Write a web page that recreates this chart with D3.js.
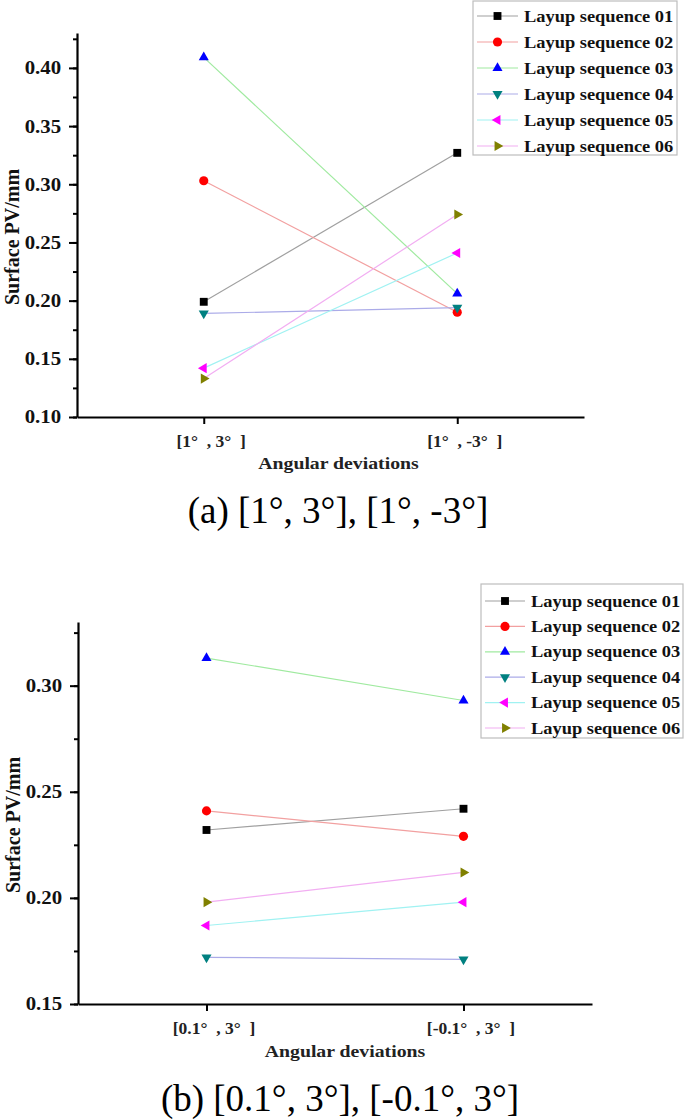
<!DOCTYPE html>
<html>
<head>
<meta charset="utf-8">
<script src="https://cdn.jsdelivr.net/npm/d3@7"></script>
<style>
body { margin: 0; background: #fff; }
svg { display: block; }
text { font-family: "Liberation Serif", "Times New Roman", serif; }
</style>
</head>
<body>
<svg id="chart"></svg>
<script>
const width = 685;
const height = 1120;
const svg = d3.select('#chart').attr('width', width).attr('height', height);

// series info
const seriesNames = ['Layup sequence 01','Layup sequence 02','Layup sequence 03','Layup sequence 04','Layup sequence 05','Layup sequence 06'];
const markerColors = ['#000000','#ff0000','#0000ff','#008080','#ff00ff','#808000'];
const lineColors = ['#a0a0a0','#f2a0a0','#a0eaa0','#ababe8','#a0f2f2','#f2aef2'];
const shapes = ['square','circle','up','down','left','right'];

// (a)
const catsA = ['[1°  , 3°  ]', '[1°  , -3°  ]'];
const seqA01 = [0.199, 0.327];
const seqA02 = [0.303, 0.190];
const seqA03 = [0.409, 0.206];
const seqA04 = [0.189, 0.194];
const seqA05 = [0.142, 0.241];
const seqA06 = [0.133, 0.274];
const ticksA = [0.10, 0.15, 0.20, 0.25, 0.30, 0.35, 0.40];

// (b)
const catsB = ['[0.1°  , 3°  ]', '[-0.1°  , 3°  ]'];
const seqB01 = [0.232, 0.242];
const seqB02 = [0.241, 0.229];
const seqB03 = [0.313, 0.293];
const seqB04 = [0.172, 0.171];
const seqB05 = [0.187, 0.198];
const seqB06 = [0.198, 0.212];
const ticksB = [0.15, 0.20, 0.25, 0.30];

const SX = 1.13; // text looks stretched sideways in the source

const symbolPath = (shape) => {
  if (shape === 'square') return d3.symbol(d3.symbolSquare, 62)();
  if (shape === 'circle') return d3.symbol(d3.symbolCircle, 66)();
  return d3.symbol(d3.symbolTriangle, 44)();
};
const symbolRot = (shape) => ({up: 0, down: 180, left: -90, right: 90}[shape] || 0);

const drawMarker = (g, i, cx, cy) => {
  g.append('path')
    .attr('d', symbolPath(shapes[i]))
    .attr('transform', `translate(${cx},${cy}) rotate(${symbolRot(shapes[i])})`)
    .attr('fill', markerColors[i]);
};

const render = (opt) => {
  const g = svg.append('g');

  var x = d3.scalePoint()
    .domain(opt.cats)
    .range([opt.left, opt.right])
    .padding(0.5);

  var y = d3.scaleLinear()
    .domain(opt.yDomain)
    .range([opt.bottom, opt.top]);

  // minor y ticks
  var minor = d3.range(opt.yDomain[0], opt.yDomain[1] + 1e-9, 0.025);
  g.append('g')
    .attr('transform', `translate(${opt.left},0)`)
    .call(d3.axisLeft(y).tickValues(minor).tickSize(4).tickSizeOuter(0).tickFormat(''))
    .call(a => a.selectAll('line').attr('stroke-width', 2))
    .call(a => a.select('.domain').remove());

  const yAxis = g.append('g')
    .attr('transform', `translate(${opt.left},0)`)
    .call(d3.axisLeft(y).tickValues(opt.ticks).tickSize(8).tickSizeOuter(0).tickPadding(6).tickFormat(d3.format('.2f')));
  yAxis.selectAll('line').attr('stroke-width', 2);
  yAxis.select('.domain').attr('stroke-width', 2.2);
  yAxis.selectAll('text')
    .attr('font-size', 18.5).attr('font-weight', 'bold')
    .attr('fill', '#111')
    .attr('transform', `scale(${SX},1)`);

  const xAxis = g.append('g')
    .attr('transform', `translate(0,${opt.bottom})`)
    .call(d3.axisBottom(x).tickSize(7).tickSizeOuter(0).tickPadding(11));
  xAxis.selectAll('line').attr('stroke-width', 2);
  xAxis.select('.domain').attr('stroke-width', 2.2);
  xAxis.selectAll('text')
    .attr('font-size', 17.5).attr('font-weight', 'bold')
    .attr('fill', '#222')
    .style('white-space', 'pre')
    .attr('transform', 'translate(7,0)');

  // axis titles
  g.append('text')
    .attr('transform', `translate(${opt.yTitleX},${opt.yTitleY}) rotate(-90)`)
    .attr('text-anchor', 'middle')
    .attr('font-size', 20).attr('font-weight', 'bold')
    .attr('fill', '#111')
    .text('Surface PV/mm');

  g.append('text')
    .attr('transform', `translate(${(opt.left + opt.right) / 2 + opt.xTitleDx},${opt.xTitleY}) scale(${SX},1)`)
    .attr('text-anchor', 'middle')
    .attr('font-size', 17.5).attr('font-weight', 'bold')
    .attr('fill', '#222')
    .text('Angular deviations');

  // lines then markers
  opt.series.forEach((vals, i) => {
    g.append('path')
      .datum(vals)
      .attr('fill', 'none')
      .attr('stroke', lineColors[i])
      .attr('stroke-width', 1.2)
      .attr('d', d3.line().x((d, k) => x(opt.cats[k])).y(d => y(d)));
  });
  opt.series.forEach((vals, i) => {
    vals.forEach((v, k) => drawMarker(g, i, x(opt.cats[k]), y(v)));
  });

  // legend
  const L = opt.legend;
  g.append('rect')
    .attr('x', L.x0).attr('y', L.y0)
    .attr('width', L.x1 - L.x0).attr('height', L.y1 - L.y0)
    .attr('fill', '#fff').attr('stroke', '#bdbdbd').attr('stroke-width', 1.2);
  seriesNames.forEach((name, i) => {
    const cy = L.rowY + i * L.step;
    g.append('line')
      .attr('x1', L.lineX0).attr('x2', L.lineX1)
      .attr('y1', cy).attr('y2', cy)
      .attr('stroke', lineColors[i]).attr('stroke-width', 1.2);
    drawMarker(g, i, (L.lineX0 + L.lineX1) / 2, cy);
    g.append('text')
      .attr('transform', `translate(${L.textX},${cy + 5.5}) scale(${SX},1)`)
      .attr('font-size', 16.3).attr('font-weight', 'bold')
      .attr('fill', '#111')
      .text(name);
  });

  // caption
  svg.append('text')
    .attr('x', opt.capX).attr('y', opt.capY)
    .attr('text-anchor', 'middle')
    .attr('font-size', 37)
    .attr('fill', '#000')
    .text(opt.caption);
};

render({
  cats: catsA,
  series: [seqA01, seqA02, seqA03, seqA04, seqA05, seqA06],
  ticks: ticksA,
  yDomain: [0.10, 0.43],
  left: 77, right: 584, top: 33, bottom: 417,
  yTitleX: 19, yTitleY: 237,
  xTitleDx: 8, xTitleY: 469,
  legend: {x0: 473, x1: 677, y0: 1, y1: 155, rowY: 16, step: 26, lineX0: 477, lineX1: 518, textX: 524},
  caption: '(a) [1°, 3°], [1°, -3°]', capX: 338, capY: 523
});

render({
  cats: catsB,
  series: [seqB01, seqB02, seqB03, seqB04, seqB05, seqB06],
  ticks: ticksB,
  yDomain: [0.15, 0.33],
  left: 78, right: 592, top: 622, bottom: 1004,
  yTitleX: 20, yTitleY: 825,
  xTitleDx: 10, xTitleY: 1057,
  legend: {x0: 481, x1: 683, y0: 584, y1: 738, rowY: 601, step: 25.4, lineX0: 485, lineX1: 525, textX: 531},
  caption: '(b) [0.1°, 3°], [-0.1°, 3°]', capX: 340, capY: 1111
});
</script>
</body>
</html>
